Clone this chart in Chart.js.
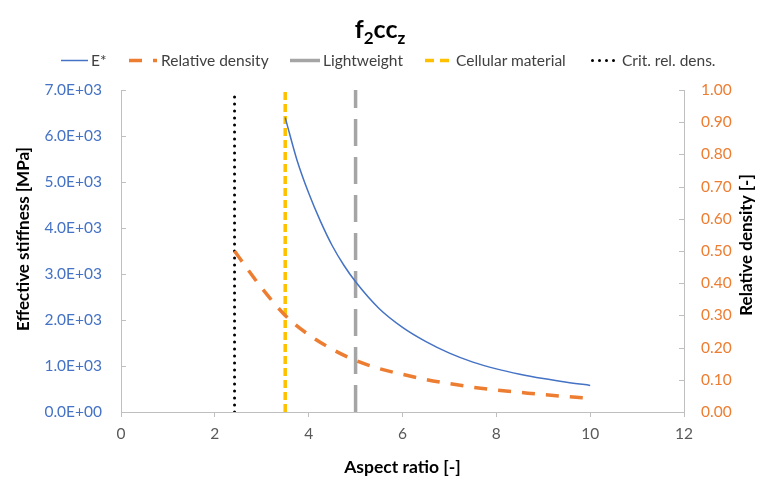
<!DOCTYPE html>
<html>
<head>
<meta charset="utf-8">
<script src="https://cdn.jsdelivr.net/npm/chart.js@4.4.0/dist/chart.umd.min.js"></script>
<style>
  body { margin: 0; background: #fff; }
  #wrap { position: relative; width: 760px; height: 481px; }
  #title { position: absolute; left: 0; top: 13px; width: 760px; text-align: center;
           font: bold 25px Lato, sans-serif; color: #000; }
  #title sub { font-size: 17px; vertical-align: -6px; line-height: 0; }
  .lg { position: absolute; top: 51px; height: 18px; font: 15.5px Lato, sans-serif; color: #404040;
        white-space: nowrap; line-height: 18px; }
  .lg svg { position: absolute; top: 0; left: 0; }
  .lg span { position: absolute; top: 0; }
</style>
</head>
<body>
<div id="wrap">
  <canvas id="chart" width="760" height="481"></canvas>
  <div id="title">f<sub>2</sub>cc<sub>z</sub></div>
  <div id="legend"></div>
</div>
<script>
// E* (effective stiffness, MPa) vs aspect ratio
const eX = [3.5, 3.75, 4.0, 4.25, 4.5, 4.75, 5.0, 5.5, 6.0, 6.5, 7.0, 7.5, 8.0, 8.5, 9.0, 9.5, 10.0];
const eY = [6400, 5480, 4760, 4150, 3620, 3190, 2830, 2250, 1840, 1530, 1280, 1085, 938, 822, 728, 648, 578];

// relative density vs aspect ratio
const rhoX = [2.42, 2.75, 3.0, 3.5, 4.0, 4.5, 5.0, 5.5, 6.0, 6.5, 7.0, 7.5, 8.0, 8.5, 9.0, 9.5, 10.0];
const rhoY = [0.500, 0.433, 0.385, 0.300, 0.240, 0.195, 0.160, 0.135, 0.117, 0.101, 0.088, 0.077, 0.068, 0.061, 0.054, 0.048, 0.043];

// vertical marker lines
const lightweightX = 5;
const cellularX = 3.5;
const critX = 2.42;

const xTicks = [0, 12, 2];       // min, max, step
const yLeftTicks = [0, 7000, 1000];
const yRightTicks = [0, 1, 0.1];

const names = ['E*', 'Relative density', 'Lightweight', 'Cellular material', 'Crit. rel. dens.'];

const pts = (xs, ys) => xs.map((x, i) => ({ x: x, y: ys[i] }));
const vline = x => [{ x: x, y: yLeftTicks[0] }, { x: x, y: yLeftTicks[1] }];

function sci(v) {
  const parts = Number(v).toExponential(1).split('e');
  const sign = parts[1][0];
  const exp = parts[1].slice(1).padStart(2, '0');
  return parts[0] + 'E' + sign + exp;
}

const legendItems = [
  { x: 61, w: 27, tx: 91, color: '#4472c4', width: 1.5, dash: '', cap: 'butt' },
  { x: 129, w: 28, tx: 161, color: '#ed7d31', width: 3.5, dash: '13 11', cap: 'butt' },
  { x: 290, w: 30, tx: 323, color: '#a5a5a5', width: 3.5, dash: '', cap: 'butt' },
  { x: 425, w: 24, tx: 456, color: '#ffc000', width: 3.5, dash: '9 6', cap: 'butt' },
  { x: 591, w: 24, tx: 622, color: '#000000', width: 3, dash: '0 7', cap: 'round' }
];
const legend = document.getElementById('legend');
legendItems.forEach((it, i) => {
  const d = document.createElement('div');
  d.className = 'lg';
  d.style.left = it.x + 'px';
  d.innerHTML =
    '<svg width="' + it.w + '" height="18"><line x1="' + (it.cap === 'round' ? 1.5 : 0) + '" y1="9.5" x2="' + it.w +
    '" y2="9.5" stroke="' + it.color + '" stroke-width="' + it.width + '" stroke-linecap="' + it.cap + '"' +
    (it.dash ? ' stroke-dasharray="' + it.dash + '"' : '') + '/></svg>' +
    '<span style="left:' + (it.tx - it.x) + 'px">' + names[i] + '</span>';
  legend.appendChild(d);
});

// vertical axis titles (both read bottom-to-top) and inward y ticks
function vTitle(ctx, text, x, y) {
  ctx.save();
  ctx.font = 'bold 17px Lato, sans-serif';
  ctx.fillStyle = '#000';
  ctx.textAlign = 'center';
  ctx.textBaseline = 'middle';
  ctx.translate(x, y);
  ctx.rotate(-Math.PI / 2);
  ctx.fillText(text, 0, 0);
  ctx.restore();
}

const extras = {
  id: 'extras',
  afterDraw(chart) {
    const { ctx, chartArea } = chart;
    const yl = chart.scales.y, yr = chart.scales.y1;
    ctx.save();
    ctx.strokeStyle = '#bfbfbf';
    ctx.lineWidth = 1;
    ctx.beginPath();
    yl.ticks.forEach((t, i) => {
      const y = Math.round(yl.getPixelForTick(i)) + 0.5;
      ctx.moveTo(chartArea.left, y); ctx.lineTo(chartArea.left + 5, y);
    });
    yr.ticks.forEach((t, i) => {
      const y = Math.round(yr.getPixelForTick(i)) + 0.5;
      ctx.moveTo(chartArea.right - 5, y); ctx.lineTo(chartArea.right, y);
    });
    ctx.stroke();
    ctx.restore();

    vTitle(ctx, 'Effective stiffness [MPa]', 24, 239);
    vTitle(ctx, 'Relative density [-]', 747, 245);
  }
};

const ctx = document.getElementById('chart').getContext('2d');
const chart = new Chart(ctx, {
  type: 'line',
  data: {
    datasets: [
      {
        label: names[0], data: pts(eX, eY), yAxisID: 'y',
        borderColor: '#4472c4', borderWidth: 1.5, cubicInterpolationMode: 'monotone'
      },
      {
        label: names[1], data: pts(rhoX, rhoY), yAxisID: 'y1',
        borderColor: '#ed7d31', borderWidth: 3.5, borderDash: [13, 11], cubicInterpolationMode: 'monotone'
      },
      {
        label: names[2], data: vline(lightweightX), yAxisID: 'y',
        borderColor: '#a5a5a5', borderWidth: 3.5, borderDash: [27, 11]
      },
      {
        label: names[3], data: vline(cellularX), yAxisID: 'y',
        borderColor: '#ffc000', borderWidth: 3.5, borderDash: [8, 4]
      },
      {
        label: names[4], data: vline(critX), yAxisID: 'y',
        borderColor: '#000000', borderWidth: 3, borderDash: [0, 7], borderCapStyle: 'round'
      }
    ]
  },
  options: {
    responsive: false,
    animation: false,
    layout: { padding: { top: 90, left: 0, right: 0, bottom: 0 } },
    elements: { point: { radius: 0, hoverRadius: 0 } },
    plugins: {
      legend: { display: false },
      title: { display: false },
      tooltip: { enabled: false }
    },
    scales: {
      x: {
        type: 'linear',
        min: xTicks[0], max: xTicks[1],
        ticks: { stepSize: xTicks[2], color: '#595959', font: { family: 'Lato', size: 15.5 }, padding: 8 },
        grid: { drawOnChartArea: false, tickLength: 5, color: '#bfbfbf' },
        border: { color: '#bfbfbf' },
        title: {
          display: true, text: 'Aspect ratio [-]', color: '#000',
          font: { family: 'Lato', size: 17.5, weight: 'bold' }, padding: { top: 0, bottom: 3 }
        },
        afterFit: s => { s.height = 69; }
      },
      y: {
        position: 'left',
        min: yLeftTicks[0], max: yLeftTicks[1],
        ticks: {
          stepSize: yLeftTicks[2], color: '#4472c4', font: { family: 'Lato', size: 15.5 }, padding: 19,
          callback: v => sci(v)
        },
        grid: { drawOnChartArea: false, drawTicks: false },
        border: { color: '#bfbfbf' },
        afterFit: s => { s.width = 121; }
      },
      y1: {
        position: 'right',
        min: yRightTicks[0], max: yRightTicks[1],
        ticks: {
          stepSize: yRightTicks[2], color: '#ed7d31', font: { family: 'Lato', size: 15.5 }, padding: 17,
          callback: v => Number(v).toFixed(2)
        },
        grid: { drawOnChartArea: false, drawTicks: false },
        border: { color: '#bfbfbf' },
        afterFit: s => { s.width = 76; }
      }
    }
  },
  plugins: [extras]
});
</script>
</body>
</html>
